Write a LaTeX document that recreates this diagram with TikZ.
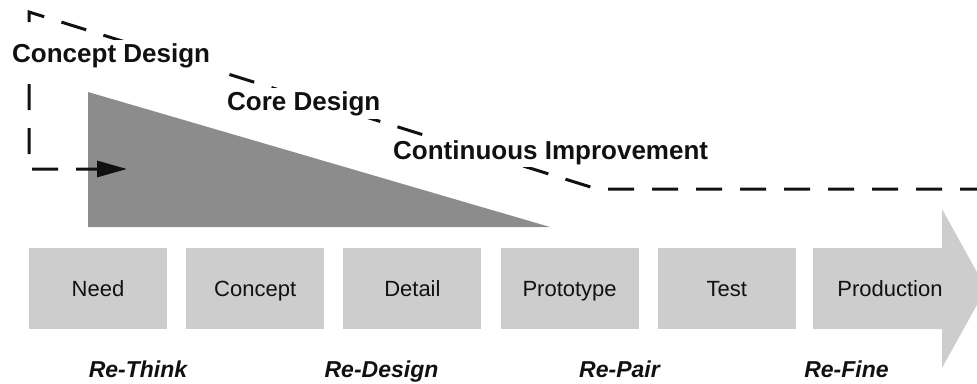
\documentclass[tikz,border=0pt]{standalone}
\usepackage{fontspec}
\setmainfont{Liberation Sans}
\usetikzlibrary{positioning, arrows.meta}
\definecolor{boxgray}{HTML}{CDCDCD}
\definecolor{wedgegray}{HTML}{8C8C8C}
\definecolor{ink}{HTML}{111111}
\tikzset{
    stage/.style={fill=boxgray, minimum width=138pt, minimum height=81pt, inner sep=0pt,
                  text height=16pt, text depth=0pt, font=\fontsize{22}{26}\selectfont, text=ink},
    phase/.style={fill=white, inner sep=3pt, anchor=base west,
                  font=\fontsize{26}{30}\selectfont\bfseries, text=ink},
    redo/.style={anchor=base, font=\fontsize{23}{27}\selectfont\bfseries\itshape, text=ink},
    dashline/.style={line width=3pt, dash pattern=on 26pt off 18pt, draw=ink}
}
\begin{document}
\begin{tikzpicture}[x=1pt, y=-1pt]
            \clip (0,0) rectangle (977,383);
            % Wedge:
            \fill[wedgegray] (88,92) -- (88,227) -- (550,227) -- cycle;
            % Production arrow:
            \fill[boxgray] (813,248) -- (942,248) -- (942,209) -- (986,288.5)
                           -- (942,368) -- (942,329) -- (813,329) -- cycle;

            % Stages:
            \node[stage] (need) at (98,288.5) {Need};
            \node[stage, right=18.8pt of need] (concept) {Concept};
            \node[stage, right=18.8pt of concept] (detail) {Detail};
            \node[stage, right=18.8pt of detail] (proto) {Prototype};
            \node[stage, right=18.8pt of proto] (test) {Test};
            \node[stage, right=18.8pt of test, fill=none, minimum width=150pt] (prod) {Production};

            % Dashed line:
            \coordinate (lineend) at (986,189);
            \coordinate (bend) at (597,189);
            \coordinate (topcorner) at (29,12);
            \coordinate (lowcorner) at (29,169);
            \coordinate (tip) at (127,169);
            \draw[dashline, -{Triangle[length=30pt, width=16pt]}] (lineend) -- (bend) -- (topcorner)
                                 -- (lowcorner) -- (tip);

            % Labels:
            \node[phase] (conceptdesign) at (9,62) {Concept Design};
            \node[phase] (coredesign) at (224,110) {Core Design};
            \node[phase] (improvement) at (390,159) {Continuous Improvement};

            \node[redo] (rethink) at (138,377) {Re-Think};
            \node[redo] (redesign) at (381.5,377) {Re-Design};
            \node[redo] (repair) at (619.5,377) {Re-Pair};
            \node[redo] (refine) at (846.5,377) {Re-Fine};
        \end{tikzpicture}
\end{document}
